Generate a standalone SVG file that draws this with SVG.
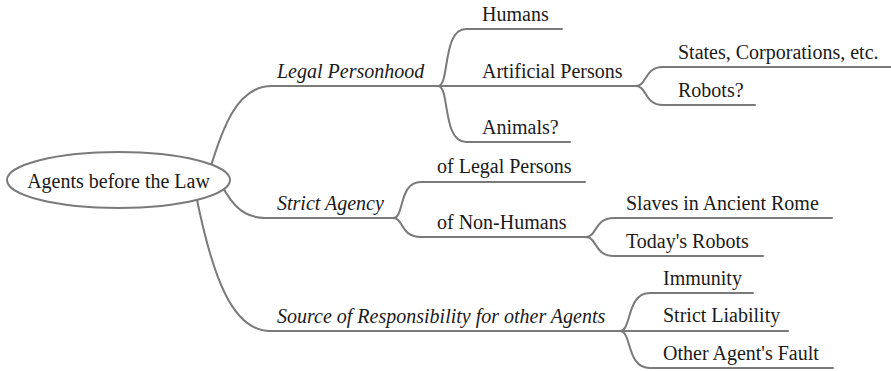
<svg xmlns="http://www.w3.org/2000/svg" width="891" height="371" viewBox="0 0 891 371">
  <style>
    .edge { fill: none; stroke: #7a7a7a; stroke-width: 2; stroke-linecap: round; }
    .root { fill: #ffffff; stroke: #7a7a7a; stroke-width: 2; }
    .label { font-family: 'Liberation Serif', Tinos, 'Times New Roman', 'DejaVu Serif', serif; font-size: 20px; fill: #1a1a1a; }
    .topic { font-style: italic; }
  </style>
  <rect width="891" height="371" fill="#ffffff"/>

  <!-- connectors -->
  <g id="connectors">
    <!-- main branches from the root -->
    <path class="edge" d="M 205 185 C 222 130, 235 86, 272 86 L 440 86"/>
    <path class="edge" d="M 215 172 C 228 200, 240 218, 265 218 L 395 218"/>
    <path class="edge" d="M 196 195 C 212 275, 232 331, 270 331 L 622 331"/>

    <!-- Legal Personhood -->
    <path class="edge" d="M 438 86 C 450 86, 442 29, 466 29 L 562 29"/>
    <path class="edge" d="M 438 86 L 638 86"/>
    <path class="edge" d="M 438 86 C 450 86, 442 142, 466 142 L 570 142"/>

    <!-- Artificial Persons -->
    <path class="edge" d="M 636 86 C 647 86, 644 67, 663 67 L 891 67"/>
    <path class="edge" d="M 636 86 C 647 86, 644 105, 663 105 L 755 105"/>

    <!-- Strict Agency -->
    <path class="edge" d="M 393 218 C 405 218, 398 182, 421 182 L 585 182"/>
    <path class="edge" d="M 393 218 C 404 218, 400 237, 421 237 L 588 237"/>

    <!-- of Non-Humans -->
    <path class="edge" d="M 586 237 C 597 237, 594 218, 614 218 L 832 218"/>
    <path class="edge" d="M 586 237 C 597 237, 594 256, 614 256 L 763 256"/>

    <!-- Source of Responsibility -->
    <path class="edge" d="M 620 331 C 632 331, 626 293, 650 293 L 753 293"/>
    <path class="edge" d="M 620 331 L 788 331"/>
    <path class="edge" d="M 620 331 C 632 331, 626 368, 650 368 L 833 368"/>
  </g>

  <!-- nodes -->
  <g class="label" font-family="Liberation Serif, serif">
    <g id="root">
      <ellipse class="root" cx="118.5" cy="180" rx="111.5" ry="28"/>
      <text x="118.5" y="188" text-anchor="middle">Agents before the Law</text>
    </g>

    <g id="legal-personhood"><text class="topic" x="277" y="78">Legal Personhood</text></g>
    <g id="humans"><text x="482" y="21">Humans</text></g>
    <g id="artificial-persons"><text x="482" y="78">Artificial Persons</text></g>
    <g id="animals"><text x="482" y="134">Animals?</text></g>
    <g id="states"><text x="678" y="59">States, Corporations, etc.</text></g>
    <g id="robots"><text x="678" y="97">Robots?</text></g>

    <g id="strict-agency"><text class="topic" x="277" y="210">Strict Agency</text></g>
    <g id="of-legal-persons"><text x="437" y="173">of Legal Persons</text></g>
    <g id="of-non-humans"><text x="437" y="229">of Non-Humans</text></g>
    <g id="slaves"><text x="626" y="210">Slaves in Ancient Rome</text></g>
    <g id="todays-robots"><text x="626" y="248">Today's Robots</text></g>

    <g id="source"><text class="topic" x="277" y="323">Source of Responsibility for other Agents</text></g>
    <g id="immunity"><text x="663" y="285">Immunity</text></g>
    <g id="strict-liability"><text x="663" y="322">Strict Liability</text></g>
    <g id="other-fault"><text x="663" y="360">Other Agent's Fault</text></g>
  </g>
</svg>
